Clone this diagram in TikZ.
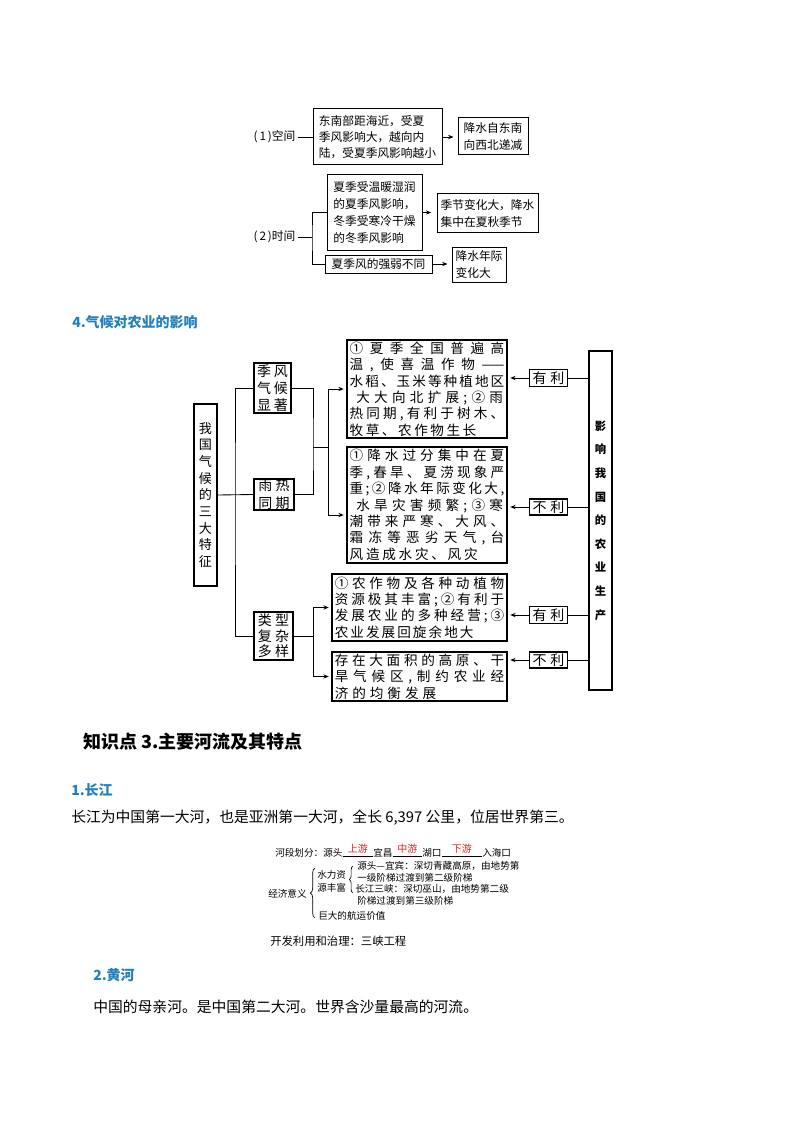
\documentclass[tikz,border=0pt]{standalone}
\usepackage{fontspec}
\setmainfont{Noto Sans CJK SC}
\usetikzlibrary{arrows.meta,decorations.pathreplacing}
\definecolor{hblue}{RGB}{34,128,186}
\definecolor{hred}{RGB}{225,35,35}
\makeatletter
\newcommand\jl[2]{\leavevmode\hbox to #1{\@tfor\jc:=#2\do{\jc\hfil}\unskip}}
\makeatother
\tikzset{
  sz/.style 2 args={minimum width=#1*0.75pt, minimum height=#2*0.75pt},
  ln/.style={line width=0.65pt},
  arr/.style={line width=0.65pt, -{Stealth[length=4pt,width=3.2pt]}},
  tfont/.style={font=\fontsize{8.8}{12}\selectfont},
  tbox/.style={draw, line width=0.75pt, align=left, tfont},
  mbox/.style={draw, line width=0.9pt, align=left, font=\fontsize{10.2}{12.3}\selectfont},
  sbox/.style={draw, line width=0.9pt, align=left, font=\fontsize{10.5}{12.75}\selectfont},
  vtbox/.style={draw, line width=0.9pt, align=center},
  lbox/.style={draw, line width=0.8pt, inner xsep=2.5pt, inner ysep=1.2pt, font=\fontsize{10.5}{12}\selectfont},
  bfont/.style={font=\fontsize{7.2}{8}\selectfont, anchor=west},
  hd/.style={anchor=west, text=hblue, font=\fontsize{10.5}{12}\selectfont\bfseries},
  para/.style={anchor=west, font=\fontsize{11.1}{13}\selectfont},
}
\begin{document}
\begin{tikzpicture}[x=0.75pt,y=-0.75pt, every node/.style={inner sep=0pt}]
\fill[white] (0,0) rectangle (794,1123);
\useasboundingbox (0,0) rectangle (794,1123);

% ---------- top diagram ----------
\node[tfont, inner sep=2pt] (lab1) at (274.5,137) {(\,1\,)空间};
\node[tbox, sz={129}{56}] (b1) at (377.5,137) {东南部距海近，受夏\\季风影响大，越向内\\陆，受夏季风影响越小};
\node[tbox, sz={70}{37}, font=\fontsize{8.8}{12.5}\selectfont] (b2) at (493,136.5) {降水自东南\\向西北递减};
\draw[ln] (lab1) -- (b1.west);
\draw[arr, shorten >=3pt] (b1.east) -- (b1.east -| b2.west);

\node[tfont, inner sep=2pt] (lab2) at (274.5,237) {(\,2\,)时间};
\node[tbox, sz={95}{75}, font=\fontsize{8.8}{12.75}\selectfont] (b3) at (374.5,212.5) {夏季受温暖湿润\\的夏季风影响，\\冬季受寒冷干燥\\的冬季风影响};
\node[tbox, sz={107}{18}] (b4) at (378.5,264) {夏季风的强弱不同};
\node[tbox, sz={101}{39}, font=\fontsize{8.8}{12.75}\selectfont] (b5) at (487.5,213.5) {季节变化大，降水\\集中在夏秋季节};
\node[tbox, sz={54}{35}, font=\fontsize{8.8}{12.75}\selectfont] (b6) at (479,264.5) {降水年际\\变化大\hspace*{8.8pt}};
\coordinate (t2) at (312,237);
\draw[ln] (lab2) -- (t2);
\draw[ln] (b3.west) -| (t2) |- (b4.west);
\draw[arr, shorten >=4pt] (b3.east) -- (b3.east -| b5.west);
\draw[arr, shorten >=3pt] (b4.east) -- (b4.east -| b6.west);

% ---------- heading 4 ----------
\node[hd] (h4) at (72,322) {4.气候对农业的影响};

% ---------- middle diagram ----------
\node[vtbox, sz={23}{182}, font=\fontsize{9.8}{12.5}\selectfont] (L) at (205.5,495) {我\\国\\气\\候\\的\\三\\大\\特\\征};
\node[sbox, sz={37}{50}] (MF) at (272.5,388) {\jl{23pt}{季风}\\\jl{23pt}{气候}\\\jl{23pt}{显著}};
\node[sbox, sz={40}{31}, font=\fontsize{10.5}{13.5}\selectfont] (YR) at (274,494.5) {\jl{23.5pt}{雨热}\\\jl{23.5pt}{同期}};
\node[sbox, sz={39}{48}, font=\fontsize{10.5}{11.6}\selectfont] (LX) at (273.5,636) {\jl{23.5pt}{类型}\\\jl{23.5pt}{复杂}\\\jl{23.5pt}{多样}};

\node[mbox, sz={160}{98}] (A) at (427,389) {\jl{116pt}{①夏季全国普遍高}\\
\jl{116pt}{温,使喜温作物{——}}\\
\jl{116pt}{水稻、玉米等种植地区}\\
\hspace*{5pt}\jl{110pt}{大大向北扩展;②雨}\\
\jl{116pt}{热同期,有利于树木、}\\
\jl{95pt}{牧草、农作物生长}};
\node[mbox, sz={160}{116}] (B) at (427,505) {\jl{116pt}{①降水过分集中在夏}\\
\jl{116pt}{季,春旱、夏涝现象严}\\
\jl{116pt}{重;②降水年际变化大,}\\
\hspace*{5pt}\jl{110pt}{水旱灾害频繁;③寒}\\
\jl{116pt}{潮带来严寒、大风、}\\
\jl{116pt}{霜冻等恶劣天气,台}\\
\jl{96pt}{风造成水灾、风灾}};
\node[mbox, sz={175}{67}] (C) at (419.5,607.5) {\jl{127pt}{①农作物及各种动植物}\\
\jl{127pt}{资源极其丰富;②有利于}\\
\jl{127pt}{发展农业的多种经营;③}\\
\jl{104pt}{农业发展回旋余地大}};
\node[mbox, sz={175}{49}] (D) at (419.5,676.5) {\jl{127pt}{存在大面积的高原、干}\\
\jl{127pt}{旱气候区,制约农业经}\\
\jl{76pt}{济的均衡发展}};

\node[vtbox, sz={23}{339}, font=\fontsize{8.5}{17.7}\selectfont\bfseries] (R) at (600.5,520.5) {影\\响\\我\\国\\的\\农\\业\\生\\产};

\node[lbox] (Y1) at (548.5,378) {\jl{24pt}{有利}};
\node[lbox] (N1) at (548.5,507) {\jl{24pt}{不利}};
\node[lbox] (Y2) at (548.5,615) {\jl{24pt}{有利}};
\node[lbox] (N2) at (548.5,660) {\jl{24pt}{不利}};

% left connectors
\coordinate (j1) at (235,495);
\draw[ln] (L.east) -- (YR.west);
\draw[ln] (MF.west) -| (j1) |- (LX.west);
\coordinate (j2) at (313,447);
\coordinate (j3) at (328,447);
\draw[ln] (MF.east) -| (j2) |- (YR.east);
\draw[ln] (j2) -- (j3);
\draw[arr, shorten >=2pt] (j3) |- (A.west);
\draw[arr, shorten >=2pt] (j3) |- ([yshift=-7.5pt]B.west);
\coordinate (j4) at (313,636);
\draw[ln] (LX.east) -- (j4);
\draw[arr, shorten >=2pt] (j4) |- (C.west);
\draw[arr, shorten >=2pt] (j4) |- (D.west);

% right connectors
\foreach \n/\b in {Y1/A, N1/B, Y2/C, N2/D}{
  \draw[arr, shorten >=2pt] (\n.west) -- (\n.west -| \b.east);
  \draw[ln] (\n.east) -- (\n.east -| R.west);
}

% ---------- section 3 ----------
\node[anchor=west, font=\fontsize{13.5}{15}\selectfont\bfseries] (s3) at (83,742) {知识点 3.主要河流及其特点};
\node[hd] (h1) at (71,790) {1.长江};
\node[para] (p1) at (71,818) {长江为中国第一大河，也是亚洲第一大河，全长 6,397 公里，位居世界第三。};

% ---------- Yangtze diagram ----------
\node[bfont] (r1) at (275,853) {河段划分：源头};
\node[bfont] (r2) at (373,853) {宜昌};
\node[bfont] (r3) at (422,853) {湖口};
\node[bfont] (r4) at (482,853) {入海口};
\draw[line width=0.5pt] ([yshift=-2.25pt]r1.east) -- node[above=1.8pt, font=\fontsize{7.5}{8}\selectfont, text=hred] {上游} ([yshift=-2.25pt]r2.west);
\draw[line width=0.5pt] ([yshift=-2.25pt]r2.east) -- node[above=1.8pt, font=\fontsize{7.5}{8}\selectfont, text=hred] {中游} ([yshift=-2.25pt]r3.west);
\draw[line width=0.5pt] ([yshift=-2.25pt]r3.east) -- node[above=1.8pt, font=\fontsize{7.5}{8}\selectfont, text=hred] {下游} ([yshift=-2.25pt]r4.west);

\node[bfont] (e0) at (268,894) {经济意义};
\draw[line width=0.5pt, decorate, decoration={brace, amplitude=3.5pt}] (315,918) -- (315,868);
\node[bfont] (e1) at (317,875) {水力资};
\node[bfont] (e2) at (317,888) {源丰富};
\draw[line width=0.5pt, decorate, decoration={brace, amplitude=2.8pt}] (353,893) -- (353,866);
\node[bfont] (e3) at (357,866) {源头—宜宾：深切青藏高原，由地势第};
\node[bfont] (e4) at (357,878) {一级阶梯过渡到第二级阶梯};
\node[bfont] (e5) at (355,889) {长江三峡：深切巫山，由地势第二级};
\node[bfont] (e6) at (357,901) {阶梯过渡到第三级阶梯};
\node[bfont] (e7) at (318,916) {巨大的航运价值};
\node[anchor=west, font=\fontsize{8.5}{10}\selectfont] (e8) at (270,941) {开发利用和治理：三峡工程};

% ---------- Yellow river ----------
\node[hd] (h2) at (93,975) {2.黄河};
\node[para] (p2) at (93,1007) {中国的母亲河。是中国第二大河。世界含沙量最高的河流。};
\end{tikzpicture}
\end{document}
